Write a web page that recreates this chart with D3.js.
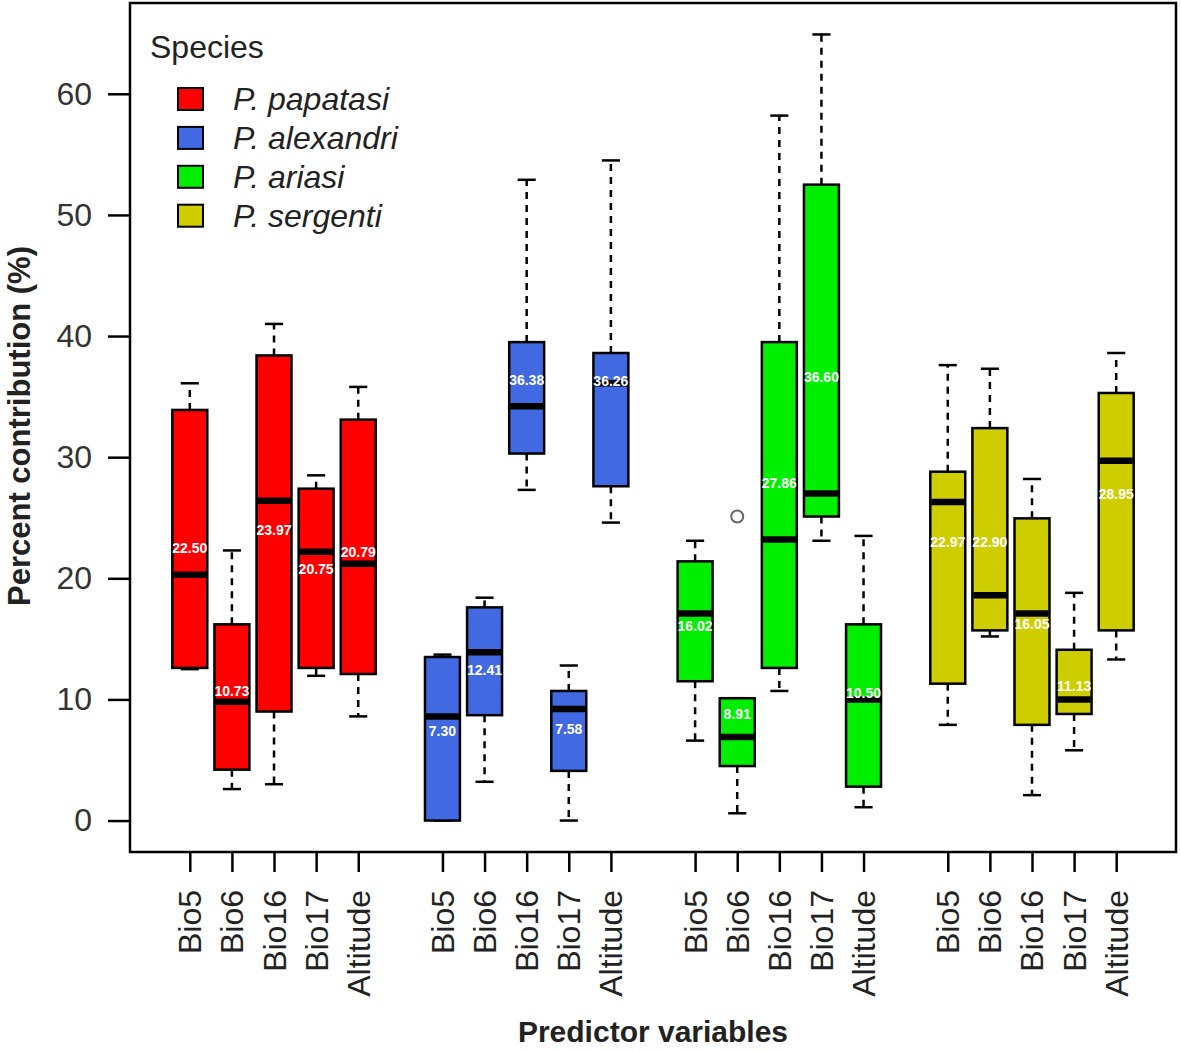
<!DOCTYPE html>
<html><head><meta charset="utf-8">
<script src="https://cdn.jsdelivr.net/npm/d3@7"></script>
<style>body{margin:0;background:#fff}svg{display:block}text{font-family:"Liberation Sans",Arial,sans-serif}</style>
</head><body><svg id="c" width="1181" height="1050"></svg>
<script>
const species = ["P. papatasi","P. alexandri","P. ariasi","P. sergenti"];
const variables = ["Bio5","Bio6","Bio16","Bio17","Altitude"];
const colors = ["#FF0000","#4169E1","#00EE00","#CDCD00"];
const yTicks = [0,10,20,30,40,50,60];
// per species, order = variables
const lowerWhisker = [[12.5,2.6,3.0,11.95,8.6],[0.0,3.2,27.3,0.0,24.6],[6.6,0.6,10.7,23.1,1.1],[7.9,15.2,2.1,5.8,13.3]];
const q1 = [[12.6,4.2,9.0,12.6,12.1],[0.0,8.7,30.3,4.1,27.6],[11.5,4.5,12.6,25.1,2.8],[11.3,15.7,7.9,8.8,15.7]];
const medians = [[20.3,9.8,26.4,22.2,21.2],[8.6,13.9,34.2,9.2,36.1],[17.1,6.9,23.2,27.0,10.0],[26.3,18.6,17.1,10.0,29.7]];
const q3 = [[33.9,16.2,38.4,27.4,33.1],[13.5,17.6,39.5,10.7,38.6],[21.4,10.1,39.5,52.5,16.2],[28.8,32.4,24.95,14.1,35.3]];
const upperWhisker = [[36.1,22.3,41.0,28.5,35.8],[13.7,18.4,52.9,12.8,54.5],[23.1,10.1,58.2,64.9,23.5],[37.6,37.3,28.2,18.8,38.6]];
const means = [[22.5,10.73,23.97,20.75,22.2],[7.4,12.41,36.38,7.58,36.26],[16.1,8.8,27.86,36.6,10.5],[23.0,23.0,16.2,11.13,27.0]];
const meanLabels = [["22.50","10.73","23.97","20.75","20.79"],["7.30","12.41","36.38","7.58","36.26"],["16.02","8.91","27.86","36.60","10.50"],["22.97","22.90","16.05","11.13","28.95"]];
const outliers = [{s:2,v:1,value:25.1}];

const svg = d3.select("#c");
const L=130,R=1176,T=3,B=852;
const nPos = species.length*(variables.length+1)-1;
const xpad = (nPos)*0.04;
const x = d3.scaleLinear().domain([0.5-xpad,nPos+0.5+xpad]).range([L,R]);
const ymin=0,ymax=64.9,yp=(ymax-ymin)*0.04;
const y = d3.scaleLinear().domain([ymin-yp,ymax+yp]).range([B,T]);
const pos = (s,v)=> s*(variables.length+1)+v+1;
const bw = 0.83, cap=0.43;

const boxes=[];
species.forEach((sp,s)=>variables.forEach((vn,v)=>boxes.push({s,v,p:pos(s,v)})));

const g = svg.append("g");
boxes.forEach(b=>{
  const cx=x(b.p);
  g.append("line").attr("x1",cx).attr("x2",cx).attr("y1",y(q3[b.s][b.v])).attr("y2",y(upperWhisker[b.s][b.v]))
   .attr("stroke","#000").attr("stroke-width",2.5).attr("stroke-dasharray","7,6");
  g.append("line").attr("x1",cx).attr("x2",cx).attr("y1",y(q1[b.s][b.v])).attr("y2",y(lowerWhisker[b.s][b.v]))
   .attr("stroke","#000").attr("stroke-width",2.5).attr("stroke-dasharray","7,6");
  [upperWhisker,lowerWhisker].forEach(arr=>{
    g.append("line").attr("x1",x(b.p-cap/2)).attr("x2",x(b.p+cap/2)).attr("y1",y(arr[b.s][b.v])).attr("y2",y(arr[b.s][b.v]))
     .attr("stroke","#000").attr("stroke-width",2.5);
  });
  g.append("rect").attr("x",x(b.p-bw/2)).attr("width",x(b.p+bw/2)-x(b.p-bw/2))
   .attr("y",y(q3[b.s][b.v])).attr("height",y(q1[b.s][b.v])-y(q3[b.s][b.v]))
   .attr("fill",colors[b.s]).attr("stroke","#000").attr("stroke-width",2.5);
  g.append("line").attr("x1",x(b.p-bw/2)+1).attr("x2",x(b.p+bw/2)-1).attr("y1",y(medians[b.s][b.v])).attr("y2",y(medians[b.s][b.v]))
   .attr("stroke","#000").attr("stroke-width",6.5);
  g.append("text").attr("x",cx).attr("y",y(means[b.s][b.v])).attr("text-anchor","middle").attr("dominant-baseline","central")
   .attr("fill","#fff").attr("font-size",14).attr("font-weight","bold").text(meanLabels[b.s][b.v]);
});
outliers.forEach(o=>{
  g.append("circle").attr("cx",x(pos(o.s,o.v))).attr("cy",y(o.value)).attr("r",6)
   .attr("fill","none").attr("stroke","#666").attr("stroke-width",2);
});

svg.append("rect").attr("x",L).attr("y",T).attr("width",R-L).attr("height",B-T).attr("fill","none").attr("stroke","#000").attr("stroke-width",2.5);

const ya = svg.append("g").attr("transform",`translate(${L},0)`)
  .call(d3.axisLeft(y).tickValues(yTicks).tickSize(22).tickPadding(16));
ya.select(".domain").remove();
ya.selectAll(".tick line").attr("stroke","#000").attr("stroke-width",2.5);
ya.selectAll(".tick text").attr("font-size",32).attr("fill","#333").attr("font-family","Liberation Sans");

const xa = svg.append("g").attr("transform",`translate(0,${B})`)
  .call(d3.axisBottom(x).tickValues(boxes.map(b=>b.p)).tickFormat((d,i)=>variables[boxes[i].v]).tickSize(20));
xa.select(".domain").remove();
xa.selectAll(".tick line").attr("stroke","#000").attr("stroke-width",2.5);
xa.selectAll(".tick text").attr("font-size",32).attr("fill","#222").attr("font-family","Liberation Sans")
  .attr("text-anchor","end").attr("dominant-baseline","central").attr("dy",null)
  .attr("transform","translate(0,38) rotate(-90)").attr("y",0).attr("x",0);

svg.append("text").attr("transform",`translate(19,${(240+612)/2}) rotate(-90)`).attr("text-anchor","middle").attr("dominant-baseline","central")
  .attr("font-size",31).attr("font-weight","bold").attr("fill","#222").text("Percent contribution (%)");
svg.append("text").attr("x",653).attr("y",1031).attr("text-anchor","middle").attr("dominant-baseline","central")
  .attr("font-size",30).attr("font-weight","bold").attr("fill","#222").text("Predictor variables");

const lg = svg.append("g");
lg.append("text").attr("x",150).attr("y",47).attr("dominant-baseline","central").attr("font-size",32).attr("fill","#222").text("Species");
species.forEach((sp,i)=>{
  const cy=99+i*38.9;
  lg.append("rect").attr("x",178).attr("y",cy-11).attr("width",25).attr("height",22).attr("fill",colors[i]).attr("stroke","#000").attr("stroke-width",2);
  lg.append("text").attr("x",233).attr("y",cy).attr("dominant-baseline","central").attr("font-size",32).attr("font-style","italic").attr("fill","#222").text(sp);
});
</script></body></html>
